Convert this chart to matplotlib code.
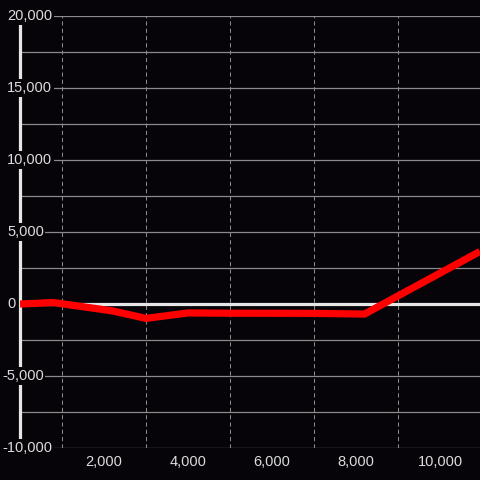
import matplotlib
matplotlib.use("Agg")
import matplotlib.pyplot as plt
import matplotlib.transforms as mtransforms

# Data
x_values = [0, 800, 2200, 3000, 4000, 5000, 7000, 8200, 10950]
y_values = [0, 100, -480, -1000, -620, -640, -650, -700, 3650]
x_tick_values = [2000, 4000, 6000, 8000, 10000]
y_tick_values = [-10000, -5000, 0, 5000, 10000, 15000, 20000]

BG = "#060409"
TXT = "#dcdcdc"

plt.rcParams['font.family'] = ['Liberation Sans', 'DejaVu Sans']

fig = plt.figure(figsize=(4.8, 4.8), dpi=100, facecolor=BG)
ax = fig.add_axes([20/480, 32/480, 460/480, 432/480], facecolor=BG)
ax.set_xlim(0, 10950)
ax.set_ylim(-10000, 20000)

# grid
ax.set_xticks(range(1000, 11000, 1000), minor=True)
ax.set_xticks(x_tick_values)
ax.set_xticklabels([f"{v:,}" for v in x_tick_values])
ax.set_yticks(y_tick_values)
ax.set_yticks(range(-10000, 20001, 2500), minor=True)
ax.tick_params(axis='both', which='both', length=0)
ax.tick_params(axis='y', labelleft=False)
ax.tick_params(axis='x', colors=TXT, labelsize=10.5, pad=5)
ax.grid(axis='x', which='minor', color='#8a8a8a', linestyle=(0, (4, 3)), linewidth=0.75)
ax.grid(axis='y', which='both', color='#8a8a8a', linestyle='-', linewidth=0.9)
ax.set_axisbelow(True)

for s in ['top', 'right', 'bottom']:
    ax.spines[s].set_visible(False)
ax.spines['left'].set_color('#e6e6e6')
ax.spines['left'].set_linewidth(2.3)
ax.spines['left'].set_zorder(3)

# zero line
ax.axhline(0, color='#e6e6e6', linewidth=2.3, zorder=3.5)

# data line
ax.plot(x_values, y_values, color='#ff0000', linewidth=5.2, zorder=4,
        solid_joinstyle='miter', solid_capstyle='butt')

# y labels with background boxes covering the axis line
trans = mtransforms.blended_transform_factory(fig.transFigure, ax.transData)
for v in y_tick_values:
    xpos = 2/480 if v < 0 else 7/480
    ax.text(xpos, v, f"{v:,}", transform=trans, ha='left', va='center',
            color=TXT, fontsize=10.5, zorder=5, clip_on=False,
            bbox=dict(facecolor=BG, edgecolor='none', pad=1.2))

fig.savefig("out.png", dpi=100, facecolor=BG)
